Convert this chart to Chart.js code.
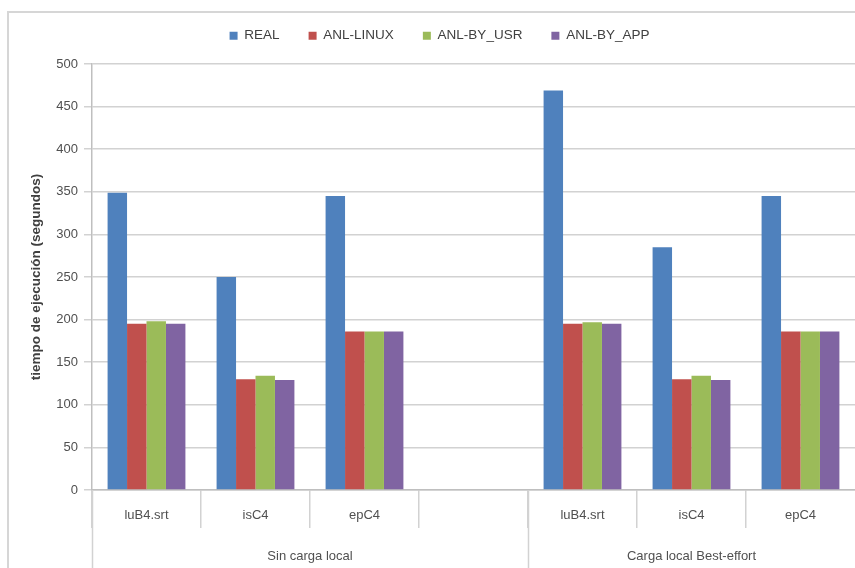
<!DOCTYPE html>
<html>
<head>
<meta charset="utf-8">
<script src="https://cdn.jsdelivr.net/npm/chart.js@4/dist/chart.umd.min.js"></script>
<style>
  html, body { margin: 0; padding: 0; background: #ffffff; }
  canvas { display: block; }
</style>
</head>
<body>
<canvas id="c" width="855" height="568"></canvas>
<script>
// Categories on the x axis (the fourth slot is an empty spacer)
const categories = ['luB4.srt', 'isC4', 'epC4', '', 'luB4.srt', 'isC4', 'epC4'];

// Second-level x axis groups: label, first category index, number of categories
const groupLabels = ['Sin carga local', 'Carga local Best-effort'];
const groupStarts = [0, 4];
const groupSpans = [4, 3];

// Series values (seconds)
const seriesNames = ['REAL', 'ANL-LINUX', 'ANL-BY_USR', 'ANL-BY_APP'];
const realValues  = [349, 250, 345, null, 469, 285, 345];
const linuxValues = [195, 130, 186, null, 195, 130, 186];
const usrValues   = [198, 134, 186, null, 197, 134, 186];
const appValues   = [195, 129, 186, null, 195, 129, 186];
const seriesColors = ['#4F81BD', '#C0504D', '#9BBB59', '#8064A2'];

// Y axis range and tick step
const yMin = 0, yMax = 500, yStep = 50;
const yTitle = 'tiempo de ejecución (segundos)';

const FONT = "'Liberation Sans', Arial, sans-serif";
const GRID = '#d2d2d2';
const TEXT = '#505050';
const NONE = 'rgba(0,0,0,0)';

// Category dividers: the closing one at the right edge is left out
const dividerColor = (c) => (c.type === 'tick' ? GRID : NONE);

// Outer frame of the chart object
const framePlugin = {
  id: 'frame',
  beforeDraw(chart) {
    const ctx = chart.ctx;
    ctx.save();
    ctx.strokeStyle = '#d6d6d6';
    ctx.lineWidth = 2;
    ctx.beginPath();
    ctx.moveTo(8, chart.height + 2);
    ctx.lineTo(8, 12);
    ctx.lineTo(chart.width + 2, 12);
    ctx.stroke();
    ctx.restore();
  }
};

// Legend sizing / placement
const legendPlugin = {
  id: 'legendBox',
  beforeInit(chart) {
    const legend = chart.legend;
    if (!legend) return;
    const fit = legend.fit;
    legend.fit = function () {
      fit.call(this);
      this.height = 64;
    };
  },
  afterLayout(chart) {
    const legend = chart.legend;
    if (!legend) return;
    legend.left += 12;
    legend.right += 12;
  }
};

// Group row under the category labels
const groupPlugin = {
  id: 'groupRow',
  afterDraw(chart) {
    const xs = chart.scales.x;
    const ctx = chart.ctx;
    const step = xs.getPixelForValue(1) - xs.getPixelForValue(0);
    const yTop = chart.chartArea.bottom;
    ctx.save();
    ctx.strokeStyle = GRID;
    ctx.lineWidth = 1.5;
    ctx.fillStyle = TEXT;
    ctx.font = '13px ' + FONT;
    ctx.textAlign = 'center';
    ctx.textBaseline = 'middle';
    groupLabels.forEach((label, i) => {
      const x0 = xs.getPixelForValue(groupStarts[i]) - step / 2;
      const x1 = xs.getPixelForValue(groupStarts[i] + groupSpans[i] - 1) + step / 2;
      ctx.beginPath();
      ctx.moveTo(Math.round(x0) + 0.5, yTop);
      ctx.lineTo(Math.round(x0) + 0.5, chart.height);
      ctx.stroke();
      ctx.fillText(label, (x0 + x1) / 2, 556);
    });
    ctx.restore();
  }
};

const valueSets = [realValues, linuxValues, usrValues, appValues];

new Chart(document.getElementById('c'), {
  type: 'bar',
  data: {
    labels: categories,
    datasets: seriesNames.map((name, i) => ({
      label: name,
      data: valueSets[i],
      backgroundColor: seriesColors[i],
      borderWidth: 0,
      categoryPercentage: 0.714,
      barPercentage: 1.0
    }))
  },
  options: {
    responsive: false,
    animation: false,
    layout: { padding: { top: 0, right: 0, bottom: 0, left: 0 } },
    plugins: {
      tooltip: { enabled: false },
      legend: {
        position: 'top',
        align: 'center',
        labels: {
          boxWidth: 8,
          boxHeight: 8,
          padding: 29,
          color: '#404040',
          font: { family: FONT, size: 13.5 }
        }
      }
    },
    scales: {
      x: {
        grid: {
          display: true,
          offset: true,
          drawOnChartArea: false,
          drawTicks: true,
          tickLength: 38,
          color: dividerColor,
          tickColor: dividerColor,
          lineWidth: 1.5
        },
        border: { display: true, color: '#bfbfbf', width: 1.5 },
        ticks: {
          color: TEXT,
          padding: -20,
          maxRotation: 0,
          autoSkip: false,
          font: { family: FONT, size: 13 }
        },
        afterFit(scale) { scale.height = 78; }
      },
      y: {
        min: yMin,
        max: yMax,
        ticks: {
          stepSize: yStep,
          color: TEXT,
          padding: 6,
          font: { family: FONT, size: 13 }
        },
        grid: {
          color: GRID,
          lineWidth: 1.5,
          tickLength: 8
        },
        border: { display: true, color: '#bfbfbf', width: 1.5 },
        title: {
          display: true,
          text: yTitle,
          color: '#404040',
          padding: { top: 28, bottom: 0 },
          font: { family: FONT, size: 13.5, weight: 'bold' }
        },
        afterFit(scale) { scale.width = 92; }
      }
    }
  },
  plugins: [framePlugin, legendPlugin, groupPlugin]
});
</script>
</body>
</html>
